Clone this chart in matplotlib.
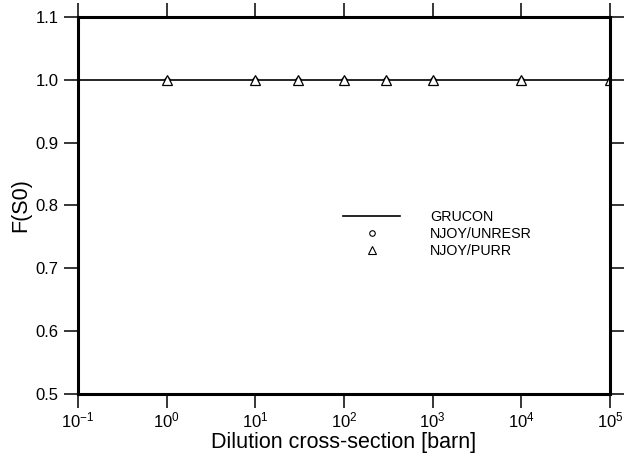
import matplotlib
matplotlib.use("Agg")
import matplotlib.pyplot as plt
from matplotlib.lines import Line2D

plt.rcParams['font.family'] = ['Liberation Sans', 'DejaVu Sans']
plt.rcParams['mathtext.fontset'] = 'custom'
plt.rcParams['mathtext.rm'] = 'Liberation Sans'
plt.rcParams['mathtext.it'] = 'Liberation Sans'
plt.rcParams['mathtext.default'] = 'regular'

# данные
grucon_x = [0.1, 1e5]
grucon_y = [1.0, 1.0]
unresr_x = [1, 10, 30, 100, 300, 1000, 10000, 100000]
unresr_y = [1.0, 1.0, 1.0, 1.0, 1.0, 1.0, 1.0, 1.0]
purr_x = [1, 10, 30, 100, 300, 1000, 10000, 100000]
purr_y = [1.0, 1.0, 1.0, 1.0, 1.0, 1.0, 1.0, 1.0]
x_ticks = [1e-1, 1e0, 1e1, 1e2, 1e3, 1e4, 1e5]
x_labels = ['$10^{-1}$', '$10^{0}$', '$10^{1}$', '$10^{2}$', '$10^{3}$', '$10^{4}$', '$10^{5}$']
y_ticks = [0.5, 0.6, 0.7, 0.8, 0.9, 1.0, 1.1]

fig = plt.figure(figsize=(6.25, 4.59), dpi=100)
ax = fig.add_axes([0.1248, 0.1416, 0.8512, 0.8214])

ax.plot(grucon_x, grucon_y, color='black', lw=1.2)
ax.plot(unresr_x, unresr_y, ls='none', marker='o', ms=4, mfc='white', mec='black', mew=0.8)
ax.plot(purr_x, purr_y, ls='none', marker='^', ms=7, mfc='white', mec='black', mew=0.9)

ax.set_xscale('log')
ax.set_xlim(0.1, 1e5)
ax.set_ylim(0.5, 1.1)
ax.set_xticks(x_ticks)
ax.set_xticklabels(x_labels)
ax.minorticks_off()
ax.set_yticks(y_ticks)
ax.set_yticklabels(['%.1f' % v for v in y_ticks])

for s in ax.spines.values():
    s.set_linewidth(2.2)
ax.tick_params(direction='out', length=10, width=1.1, labelsize=12,
               top=True, right=True, pad=4)
ax.tick_params(axis='x', pad=2)

ax.set_xlabel('Dilution cross-section [barn]', fontsize=15.5, labelpad=1)
ax.set_ylabel('F(S0)', fontsize=15.5, labelpad=3)

handles = [
    Line2D([], [], color='black', lw=1.2),
    Line2D([], [], ls='none', marker='o', ms=4, mfc='white', mec='black', mew=0.8),
    Line2D([], [], ls='none', marker='^', ms=5.5, mfc='white', mec='black', mew=0.8),
]
ax.legend(handles, ['GRUCON', 'NJOY/UNRESR', 'NJOY/PURR'], loc='upper left',
          bbox_to_anchor=(0.498, 0.487), frameon=False, fontsize=10.3,
          handlelength=4.0, handletextpad=2.1, labelspacing=0.18,
          borderpad=0, borderaxespad=0)

fig.savefig('out.png', dpi=100)
